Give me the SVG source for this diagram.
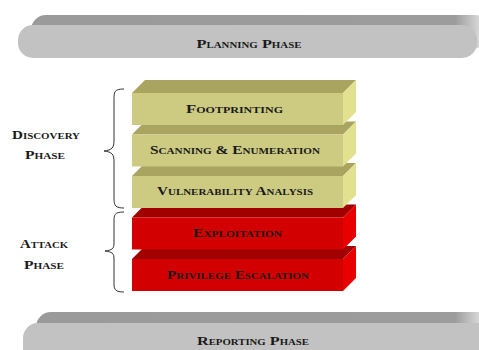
<svg xmlns="http://www.w3.org/2000/svg" width="479" height="350" viewBox="0 0 479 350">
  <defs>
    <linearGradient id="barTop" gradientUnits="userSpaceOnUse" x1="0" y1="0" x2="479" y2="0">
      <stop offset="0" stop-color="#9a9a9a"/>
      <stop offset="0.95" stop-color="#9c9c9c"/>
      <stop offset="1" stop-color="#d6d6d6"/>
    </linearGradient>
    <style>
      .lbl { font-family: "Liberation Serif", "DejaVu Serif", serif; font-weight: bold; font-variant: small-caps; fill: #1a1a1a; text-anchor: middle; }
      .bar-front { fill: #c2c2c2; }
      .bar-top { fill: url(#barTop); }
      .y-front { fill: #cdcb82; }
      .y-top { fill: #a9a561; }
      .y-side { fill: #e2e190; }
      .r-front { fill: #d20000; }
      .r-top { fill: #a00000; }
      .r-side { fill: #e80000; }
      .brace { fill: none; stroke: #333; stroke-width: 1; }
    </style>
  </defs>

  <rect width="479" height="350" fill="#ffffff"/>

  <!-- planning bar: darker rounded slab behind, lit front on top -->
  <g id="planning">
    <rect class="bar-top" x="31" y="15" width="459" height="33" rx="15" ry="15"/>
    <rect class="bar-front" x="18" y="25" width="459" height="33" rx="15" ry="15"/>
    <text class="lbl" x="249" y="48" font-size="13.5" textLength="105" lengthAdjust="spacingAndGlyphs">Planning Phase</text>
  </g>

  <!-- phase stack, drawn bottom up so upper slabs overlap lower ones -->
  <g id="privilege">
    <path class="r-top" d="M132,259 L145,246 L356,246 L343,259 Z"/>
    <path class="r-side" d="M343,259 L356,246 L356,278 L343,291 Z"/>
    <rect class="r-front" x="132" y="259" width="211" height="32"/>
    <text class="lbl" x="238" y="279" font-size="12.5" textLength="142" lengthAdjust="spacingAndGlyphs">Privilege Escalation</text>
  </g>
  <g id="exploitation">
    <path class="r-top" d="M132,217.5 L145,204.5 L356,204.5 L343,217.5 Z"/>
    <path class="r-side" d="M343,217.5 L356,204.5 L356,236.5 L343,249.5 Z"/>
    <rect class="r-front" x="132" y="217.5" width="211" height="32"/>
    <text class="lbl" x="237.5" y="237" font-size="12.5" textLength="89" lengthAdjust="spacingAndGlyphs">Exploitation</text>
  </g>
  <g id="vulnerability">
    <path class="y-top" d="M132,176 L145,163 L356,163 L343,176 Z"/>
    <path class="y-side" d="M343,176 L356,163 L356,195 L343,208 Z"/>
    <rect class="y-front" x="132" y="176" width="211" height="32"/>
    <text class="lbl" x="235" y="195" font-size="12.5" textLength="156" lengthAdjust="spacingAndGlyphs">Vulnerability Analysis</text>
  </g>
  <g id="scanning">
    <path class="y-top" d="M132,134.5 L145,121.5 L356,121.5 L343,134.5 Z"/>
    <path class="y-side" d="M343,134.5 L356,121.5 L356,153.5 L343,166.5 Z"/>
    <rect class="y-front" x="132" y="134.5" width="211" height="32"/>
    <text class="lbl" x="235" y="153.5" font-size="12.5" textLength="170" lengthAdjust="spacingAndGlyphs">Scanning &amp; Enumeration</text>
  </g>
  <g id="footprinting">
    <path class="y-top" d="M132,93 L145,80 L356,80 L343,93 Z"/>
    <path class="y-side" d="M343,93 L356,80 L356,112 L343,125 Z"/>
    <rect class="y-front" x="132" y="93" width="211" height="32"/>
    <text class="lbl" x="234.5" y="112.5" font-size="12.5" textLength="97" lengthAdjust="spacingAndGlyphs">Footprinting</text>
  </g>

  <!-- reporting bar -->
  <g id="reporting">
    <rect class="bar-top" x="36" y="312" width="470" height="40" rx="15" ry="15"/>
    <rect class="bar-front" x="23" y="323" width="470" height="40" rx="15" ry="15"/>
    <text class="lbl" x="253" y="345" font-size="13.5" textLength="112" lengthAdjust="spacingAndGlyphs">Reporting Phase</text>
  </g>

  <!-- phase groupings -->
  <g id="discovery">
    <text class="lbl" x="46" y="139" font-size="12.5" textLength="68" lengthAdjust="spacingAndGlyphs">Discovery</text>
    <text class="lbl" x="45" y="159" font-size="12.5" textLength="40" lengthAdjust="spacingAndGlyphs">Phase</text>
  </g>
  <g id="attack">
    <text class="lbl" x="44" y="248" font-size="12.5" textLength="48" lengthAdjust="spacingAndGlyphs">Attack</text>
    <text class="lbl" x="44" y="269" font-size="12.5" textLength="40" lengthAdjust="spacingAndGlyphs">Phase</text>
  </g>

  <g id="connectors">
    <path class="brace" d="M124,89 C114,89 114,92 114,100 L114,140 C114,148 112,150 104,151 C112,152 114,154 114,162 L114,199 C114,206 116,208 124,208"/>
    <path class="brace" d="M124,212 C114,212 114,215 114,222 L114,243 C114,249 112,250 105,251 C112,252 114,253 114,259 L114,284 C114,290 116,292 124,292"/>
  </g>
</svg>
